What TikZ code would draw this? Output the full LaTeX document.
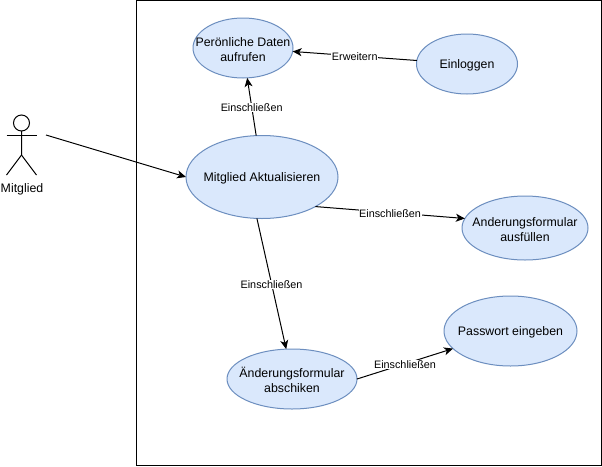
\documentclass[tikz,border=0pt]{standalone}
\usepackage{fontspec}
\setmainfont{Liberation Sans}
\usetikzlibrary{shapes.geometric,arrows.meta}
\definecolor{ucfill}{HTML}{DAE8FC}
\definecolor{ucline}{HTML}{6C8EBF}
\tikzset{
  usecase/.style args={#1x#2}{ellipse,draw=ucline,fill=ucfill,line width=1pt,inner sep=0pt,outer sep=0pt,
    minimum width=#1pt,minimum height=#2pt},
  uctext/.style={font=\fontsize{12.35}{15}\selectfont,align=center,inner sep=0pt,yshift=-1.2pt},
  conn/.style={draw=black,line width=1pt,-{Stealth[length=9pt,width=8pt,inset=2.5pt]}},
  edgelabel/.style={font=\fontsize{10.8}{12}\selectfont,fill=white,inner sep=0.6pt,pos=.5,yshift=-1pt},
  actorline/.style={draw=black,line width=1pt}
}
\begin{document}
\begin{tikzpicture}[x=1pt,y=-1pt]
\useasboundingbox (0,0) rectangle (602,466);
\fill[white] (0,0) rectangle (602,466);
\draw[black,line width=1pt] (136.5,0.5) rectangle (601.5,465.5);

% actor
\node[circle,draw=black,line width=1pt,fill=white,minimum size=16pt,inner sep=0pt,outer sep=0pt] (head) at (21.5,123) {};
\coordinate (hip) at (21.5,155);
\coordinate (armL) at (6.5,135);
\coordinate (armR) at (36.5,135);
\coordinate (legL) at (6.5,175);
\coordinate (legR) at (36.5,175);
\coordinate (actorEnd) at (46,135);
\draw[actorline] (head.south) -- (hip) -- (legL);
\draw[actorline] (hip) -- (legR);
\draw[actorline] (armL) -- (armR);
\node[uctext] (actorLabel) at (22,188.5) {Mitglied};

% use cases
\node[usecase=100x60] (daten) at (243,48) {};
\node[usecase=101x60] (login) at (467,64) {};
\node[usecase=152x83] (update) at (262,177) {};
\node[usecase=126x64] (form) at (525,228) {};
\node[usecase=133x70] (pass) at (510.5,331) {};
\node[usecase=130x60] (send) at (292,379) {};

\node[uctext] (datenT) at (daten.center) {Perönliche Daten\\aufrufen};
\node[uctext] (loginT) at (login.center) {Einloggen};
\node[uctext] (updateT) at (update.center) {Mitglied Aktualisieren};
\node[uctext] (formT) at (form.center) {Anderungsformular\\ausfüllen};
\node[uctext] (passT) at (pass.center) {Passwort eingeben};
\node[uctext] (sendT) at (send.center) {Änderungsformular\\abschiken};

% connectors
\draw[conn] (actorEnd) -- (update.180);
\draw[conn] (update.98) -- node[edgelabel] (l1) {Einschließen} (daten.-82);
\draw[conn] (login.176.6) -- node[edgelabel] (l2) {Erweitern} (daten.-4.6);
\draw[conn] (update.-29) -- node[edgelabel] (l3) {Einschließen} (form.171);
\draw[conn] (update.263) -- node[edgelabel] (l4) {Einschließen} (send.101);
\draw[conn] (send.0) -- node[edgelabel] (l5) {Einschließen} (pass.197.4);
\end{tikzpicture}
\end{document}
